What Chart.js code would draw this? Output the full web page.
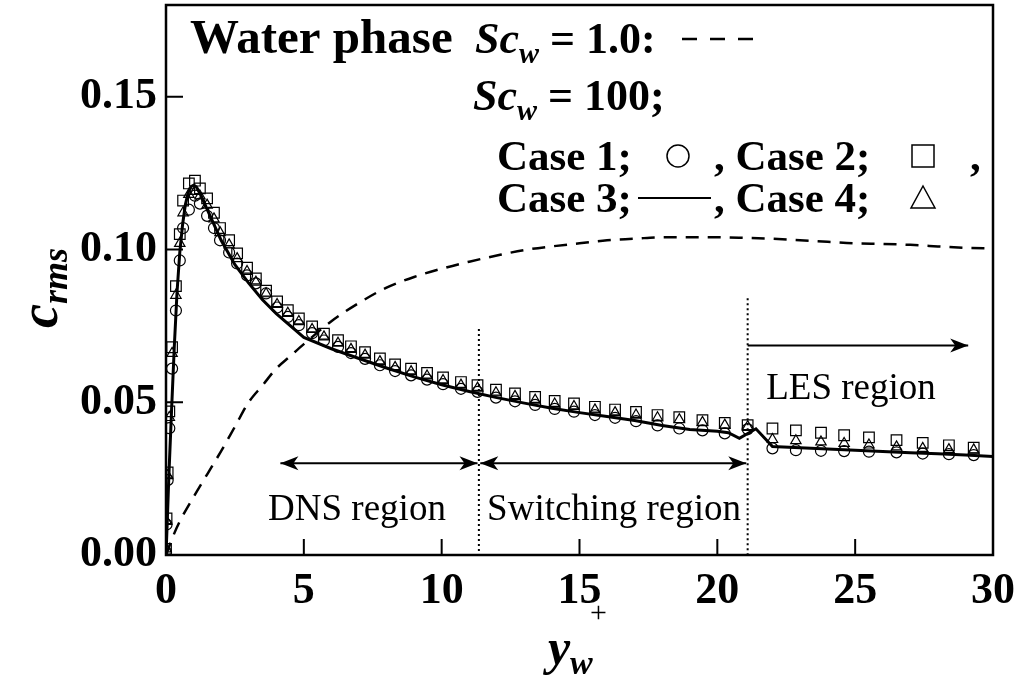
<!DOCTYPE html>
<html>
<head>
<meta charset="utf-8">
<script src="https://cdn.jsdelivr.net/npm/chart.js@4.4.0/dist/chart.umd.min.js"></script>
<style>
  html, body { margin: 0; padding: 0; background: #fff; }
</style>
</head>
<body>
<canvas id="myChart" width="1021" height="685"></canvas>
<script>
// axis ticks
const xTicks = [0, 5, 10, 15, 20, 25, 30];
const xTickLabels = ['0', '5', '10', '15', '20', '25', '30'];
const yTicks = [0, 0.05, 0.10, 0.15];
const yTickLabels = ['0.00', '0.05', '0.10', '0.15'];

// Sc_w = 1.0 (dashed)
const sc1X = [0, 0.25, 0.5, 1, 1.5, 2, 2.5, 3, 3.5, 4, 4.5, 5, 6, 7, 8, 9, 10, 11, 12, 13, 14, 15,
  16, 17, 18, 19, 20, 21, 22, 23, 24, 25, 26, 27, 28, 29, 30];
const sc1Y = [0, 0.006, 0.011, 0.019, 0.0265, 0.034, 0.042, 0.050, 0.0555, 0.061, 0.065, 0.069, 0.0765,
  0.0825, 0.0875, 0.091, 0.0937, 0.096, 0.098, 0.0998, 0.101, 0.102, 0.103, 0.1035, 0.104, 0.104,
  0.104, 0.1038, 0.1035, 0.103, 0.1025, 0.102, 0.1018, 0.1015, 0.101, 0.1005, 0.1003];

// Sc_w = 100, Case 3 (solid line)
const case3X = [0, 0.05, 0.1, 0.2, 0.3, 0.4, 0.5, 0.6, 0.7, 0.8, 0.9, 1.0, 1.1, 1.2, 1.4, 1.6, 1.8, 2.0,
  2.5, 3.0, 3.5, 4.0, 5, 6, 7, 8, 9, 10, 11, 12, 13, 14, 15, 16, 17, 18, 19, 20, 20.4, 20.8, 21.4,
  22.0, 23, 24, 25, 26, 27, 28, 29, 30];
const case3Y = [0, 0.012, 0.025, 0.047, 0.068, 0.086, 0.099, 0.108, 0.1145, 0.1185, 0.1205, 0.121,
  0.1205, 0.119, 0.115, 0.111, 0.107, 0.103, 0.095, 0.089, 0.0835, 0.079, 0.0712, 0.0675, 0.0643,
  0.0612, 0.0583, 0.0557, 0.0535, 0.0515, 0.0497, 0.0480, 0.0466, 0.0453, 0.0440, 0.0424, 0.0411,
  0.0405, 0.0400, 0.0382, 0.0413, 0.0355, 0.0351, 0.0347, 0.0343, 0.0339, 0.0335, 0.0331, 0.0327,
  0.0322];

// grid points of the marker cases
const markerX = [0, 0.02, 0.06, 0.12, 0.22, 0.36, 0.5, 0.62, 0.83, 1.05, 1.23, 1.49, 1.74, 1.96, 2.29,
  2.58, 2.94, 3.26, 3.63, 4.03, 4.42, 4.82, 5.3, 5.73, 6.24, 6.71, 7.22, 7.76, 8.31, 8.89, 9.47, 10.05,
  10.7, 11.3, 11.97, 12.66, 13.39, 14.1, 14.8, 15.56, 16.29, 17.05, 17.83, 18.62, 19.46, 20.27, 21.1,
  22.0, 22.85, 23.76, 24.6, 25.5, 26.5, 27.45, 28.4, 29.3];
// Case 1 (circles)
const case1Y = [0.001, 0.010, 0.0245, 0.0415, 0.061, 0.080, 0.0964, 0.107, 0.113, 0.1176, 0.1150,
  0.1110, 0.1070, 0.1030, 0.0990, 0.0954, 0.0915, 0.0889, 0.0856, 0.0810, 0.0779, 0.0752, 0.0726,
  0.0702, 0.0681, 0.0661, 0.0642, 0.0621, 0.0602, 0.0588, 0.0574, 0.0559, 0.0544, 0.0534, 0.0515,
  0.0503, 0.0491, 0.0478, 0.0469, 0.0458, 0.0449, 0.0438, 0.0424, 0.0414, 0.0408, 0.0398, 0.0412,
  0.0349, 0.0343, 0.0341, 0.0340, 0.0338, 0.0336, 0.0332, 0.0330, 0.0327];
// Case 2 (squares)
const case2Y = [0.002, 0.012, 0.027, 0.047, 0.068, 0.088, 0.105, 0.116, 0.1216, 0.1225, 0.1200,
  0.1167, 0.1120, 0.1070, 0.1030, 0.0987, 0.0940, 0.0905, 0.0865, 0.0830, 0.0801, 0.0774, 0.0748,
  0.0724, 0.0703, 0.0683, 0.0664, 0.0643, 0.0624, 0.0610, 0.0596, 0.0581, 0.0566, 0.0556, 0.0541,
  0.0529, 0.0517, 0.0504, 0.0496, 0.0485, 0.0476, 0.0468, 0.0458, 0.0451, 0.0441, 0.0432, 0.0425,
  0.0414, 0.0408, 0.0400, 0.0392, 0.0385, 0.0376, 0.0367, 0.0359, 0.0351];
// Case 4 (triangles)
const case4Y = [0.002, 0.011, 0.026, 0.045, 0.066, 0.085, 0.102, 0.112, 0.118, 0.1190, 0.1175,
  0.1145, 0.1100, 0.1055, 0.1015, 0.0970, 0.0928, 0.0893, 0.0855, 0.0820, 0.0791, 0.0764, 0.0738,
  0.0714, 0.0693, 0.0673, 0.0654, 0.0633, 0.0614, 0.0600, 0.0586, 0.0571, 0.0556, 0.0546, 0.0531,
  0.0519, 0.0507, 0.0494, 0.0486, 0.0475, 0.0466, 0.0458, 0.0449, 0.0443, 0.0434, 0.0425, 0.0420,
  0.0378, 0.0374, 0.0370, 0.0365, 0.0360, 0.0354, 0.0349, 0.0345, 0.0344];

// region borders and arrows (y+ units)
const regionBorders = [11.35, 21.1];
const dnsSpan = [4.15, 11.3];
const switchSpan = [11.4, 21.05];
const lesSpan = [21.1, 29.1];

const serif = '"Liberation Serif", "Times New Roman", serif';

function toPoints(xs, ys) {
  return xs.map((x, i) => ({ x: x, y: ys[i] }));
}

function drawRun(ctx, x, y, parts) {
  parts.forEach(p => {
    ctx.font = p.font;
    ctx.fillText(p.t, x, y + (p.dy || 0));
    x += ctx.measureText(p.t).width;
  });
  return x;
}

function arrowHead(ctx, x, y, dir) {
  ctx.beginPath();
  ctx.moveTo(x, y);
  ctx.lineTo(x - dir * 18, y - 7);
  ctx.lineTo(x - dir * 13, y);
  ctx.lineTo(x - dir * 18, y + 7);
  ctx.closePath();
  ctx.fill();
}

function arrow(ctx, x1, x2, y, both) {
  ctx.beginPath();
  ctx.moveTo(x1, y);
  ctx.lineTo(x2, y);
  ctx.stroke();
  arrowHead(ctx, x2, y, 1);
  if (both) arrowHead(ctx, x1, y, -1);
}

// no extra room for the outer tick labels
function noPadding(s) {
  s.paddingTop = 0;
  s.paddingBottom = 0;
  s.paddingLeft = 0;
  s.paddingRight = 0;
}

const decor = {
  id: 'decor',
  beforeDatasetsDraw(chart) {
    const ctx = chart.ctx;
    const xs = chart.scales.x, ys = chart.scales.y;
    const a = chart.chartArea;
    ctx.save();
    // region borders
    ctx.strokeStyle = '#000';
    ctx.lineWidth = 2;
    ctx.setLineDash([2, 3]);
    ctx.beginPath();
    ctx.moveTo(xs.getPixelForValue(regionBorders[0]), ys.getPixelForValue(0.074));
    ctx.lineTo(xs.getPixelForValue(regionBorders[0]), a.bottom);
    ctx.moveTo(xs.getPixelForValue(regionBorders[1]), ys.getPixelForValue(0.084));
    ctx.lineTo(xs.getPixelForValue(regionBorders[1]), a.bottom);
    ctx.stroke();
    ctx.restore();
  },
  afterDraw(chart) {
    const ctx = chart.ctx;
    const xs = chart.scales.x, ys = chart.scales.y;
    const a = chart.chartArea;
    ctx.save();
    ctx.fillStyle = '#000';
    ctx.strokeStyle = '#000';

    // frame
    ctx.lineWidth = 2.5;
    ctx.strokeRect(a.left, a.top, a.right - a.left, a.bottom - a.top);

    // inward ticks
    ctx.lineWidth = 2;
    ctx.beginPath();
    xTicks.forEach(v => {
      const px = xs.getPixelForValue(v);
      ctx.moveTo(px, a.bottom);
      ctx.lineTo(px, a.bottom - 16);
    });
    yTicks.forEach(v => {
      const py = ys.getPixelForValue(v);
      ctx.moveTo(a.left, py);
      ctx.lineTo(a.left + 17, py);
    });
    ctx.stroke();

    // region arrows
    ctx.lineWidth = 2;
    const yLow = ys.getPixelForValue(0.030);
    arrow(ctx, xs.getPixelForValue(dnsSpan[0]), xs.getPixelForValue(dnsSpan[1]), yLow, true);
    arrow(ctx, xs.getPixelForValue(switchSpan[0]), xs.getPixelForValue(switchSpan[1]), yLow, true);
    arrow(ctx, xs.getPixelForValue(lesSpan[0]), xs.getPixelForValue(lesSpan[1]), ys.getPixelForValue(0.0686), false);

    // region names
    ctx.font = '37px ' + serif;
    ctx.textAlign = 'center';
    ctx.textBaseline = 'alphabetic';
    ctx.fillText('DNS region', 357, 520);
    ctx.fillText('Switching region', 614, 520);
    ctx.fillText('LES region', 851, 399);
    ctx.textAlign = 'left';

    // legend block
    const b = 'bold 44px ' + serif;
    const bi = 'italic bold 44px ' + serif;
    const sub = 'italic bold 30px ' + serif;
    const lg = 'bold 43px ' + serif;
    ctx.font = 'bold 49px ' + serif;
    ctx.fillText('Water phase', 190, 53);
    drawRun(ctx, 475, 53, [
      { t: 'Sc', font: bi }, { t: 'w', font: sub, dy: 10 }, { t: ' = 1.0:', font: b }
    ]);
    ctx.lineWidth = 2.5;
    ctx.setLineDash([15, 13]);
    ctx.beginPath();
    ctx.moveTo(682, 39);
    ctx.lineTo(758, 39);
    ctx.stroke();
    ctx.setLineDash([]);
    drawRun(ctx, 473, 110, [
      { t: 'Sc', font: bi }, { t: 'w', font: sub, dy: 10 }, { t: ' = 100;', font: b }
    ]);
    drawRun(ctx, 497, 170, [{ t: 'Case 1;', font: lg }]);
    drawRun(ctx, 714, 170, [{ t: ', Case 2;', font: lg }]);
    drawRun(ctx, 970, 170, [{ t: ',', font: lg }]);
    drawRun(ctx, 497, 212, [{ t: 'Case 3;', font: lg }]);
    drawRun(ctx, 714, 212, [{ t: ', Case 4;', font: lg }]);
    ctx.lineWidth = 1.5;
    ctx.beginPath();
    ctx.arc(678, 156, 11, 0, Math.PI * 2);
    ctx.stroke();
    ctx.strokeRect(912, 145, 22, 22);
    ctx.beginPath();
    ctx.moveTo(923, 186);
    ctx.lineTo(935, 208);
    ctx.lineTo(911, 208);
    ctx.closePath();
    ctx.stroke();
    ctx.lineWidth = 2;
    ctx.beginPath();
    ctx.moveTo(638, 198);
    ctx.lineTo(711, 198);
    ctx.stroke();

    // axis titles
    ctx.save();
    ctx.translate(57, 328);
    ctx.rotate(-Math.PI / 2);
    drawRun(ctx, 0, 0, [
      { t: 'c', font: 'italic bold 54px ' + serif }, { t: 'rms', font: 'italic bold 36px ' + serif, dy: 10 }
    ]);
    ctx.restore();
    drawRun(ctx, 548, 664, [{ t: 'y', font: 'italic bold 50px ' + serif }]);
    drawRun(ctx, 570, 674, [{ t: 'w', font: 'italic bold 34px ' + serif }]);
    ctx.font = '30px ' + serif;
    ctx.fillText('+', 590, 622);
    ctx.restore();
  }
};

const tickFont = { family: serif, weight: 'bold', size: 44 };

const ctx = document.getElementById('myChart').getContext('2d');
const myChart = new Chart(ctx, {
  type: 'scatter',
  data: {
    datasets: [
      {
        label: 'Sc_w = 1.0',
        data: toPoints(sc1X, sc1Y),
        showLine: true,
        borderColor: '#000',
        borderWidth: 2.5,
        borderDash: [13, 9],
        pointRadius: 0,
        cubicInterpolationMode: 'monotone',
        order: 1
      },
      {
        label: 'Case 1',
        data: toPoints(markerX, case1Y),
        showLine: false,
        pointStyle: 'circle',
        pointRadius: 5.5,
        pointBorderWidth: 1.2,
        pointBorderColor: '#000',
        pointBackgroundColor: 'rgba(0,0,0,0)',
        order: 3
      },
      {
        label: 'Case 2',
        data: toPoints(markerX, case2Y),
        showLine: false,
        pointStyle: 'rect',
        pointRadius: 7.5,
        pointBorderWidth: 1.2,
        pointBorderColor: '#000',
        pointBackgroundColor: 'rgba(0,0,0,0)',
        order: 3
      },
      {
        label: 'Case 4',
        data: toPoints(markerX, case4Y),
        showLine: false,
        pointStyle: 'triangle',
        pointRadius: 6,
        pointBorderWidth: 1.2,
        pointBorderColor: '#000',
        pointBackgroundColor: 'rgba(0,0,0,0)',
        order: 3
      },
      {
        label: 'Case 3',
        data: toPoints(case3X, case3Y),
        showLine: true,
        borderColor: '#000',
        borderWidth: 3,
        pointRadius: 0,
        tension: 0,
        order: 2
      }
    ]
  },
  options: {
    responsive: false,
    animation: false,
    events: [],
    layout: { autoPadding: false, padding: { top: 5, right: 28, left: 0, bottom: 0 } },
    plugins: { legend: { display: false }, tooltip: { enabled: false } },
    scales: {
      x: {
        type: 'linear',
        min: 0,
        max: 30,
        afterBuildTicks: s => { s.ticks = xTicks.map(v => ({ value: v })); },
        afterFit: s => { s.height = 130; noPadding(s); },
        ticks: {
          font: tickFont,
          color: '#000',
          padding: 10,
          maxRotation: 0,
          autoSkip: false,
          callback: (v, i) => xTickLabels[i]
        },
        grid: { display: false, drawTicks: false },
        border: { display: false }
      },
      y: {
        type: 'linear',
        min: 0,
        max: 0.18,
        afterBuildTicks: s => { s.ticks = yTicks.map(v => ({ value: v })); },
        afterFit: s => { s.width = 166; noPadding(s); },
        ticks: {
          font: tickFont,
          color: '#000',
          padding: 9,
          autoSkip: false,
          callback: (v, i) => yTickLabels[i]
        },
        grid: { display: false, drawTicks: false },
        border: { display: false }
      }
    }
  },
  plugins: [decor]
});
</script>
</body>
</html>
